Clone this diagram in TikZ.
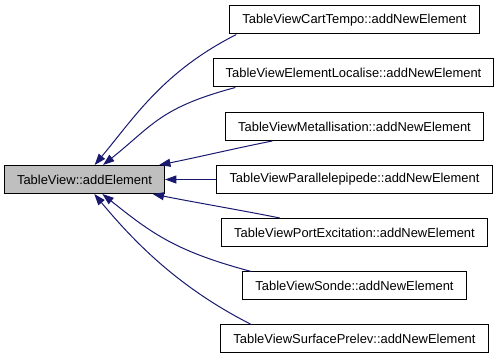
\documentclass[tikz,border=0pt]{standalone}
\usepackage{fontspec}
\setmainfont{Liberation Sans}
\usetikzlibrary{arrows.meta}

\definecolor{edgeblue}{RGB}{25,25,112}
\definecolor{fngray}{RGB}{191,191,191}

\tikzset{
  fnbox/.style={draw=black, line width=0.75pt, minimum height=21pt, inner xsep=9.4pt,
    inner ysep=0pt, font=\fontsize{9.7}{11.6}\selectfont},
  callee/.style={fnbox, fill=fngray},
  callerlink/.style={draw=edgeblue, line width=0.75pt,
    -{Triangle[length=8.5pt,width=6pt]}},
}

\begin{document}
\begin{tikzpicture}[x=0.75pt,y=0.75pt,yscale=-1,xscale=1]
\useasboundingbox (0,0) rectangle (501,360);

%Function under test
\node [callee] (addelem) at (84.5,179.5) {TableView::addElement};

%Callers
\node [fnbox] (carttempo) at (354.5,20) {TableViewCartTempo::addNewElement};
\node [fnbox] (elemloc) at (353.5,73) {TableViewElementLocalise::addNewElement};
\node [fnbox] (metall) at (354.5,126.5) {TableViewMetallisation::addNewElement};
\node [fnbox] (parall) at (354.5,179.5) {TableViewParallelepipede::addNewElement};
\node [fnbox] (portexc) at (354.5,232.5) {TableViewPortExcitation::addNewElement};
\node [fnbox] (sonde) at (354.5,286) {TableViewSonde::addNewElement};
\node [fnbox] (surfprel) at (354.5,339) {TableViewSurfacePrelev::addNewElement};

%Call links
\draw [callerlink] (carttempo.187.2) .. controls +(-73,37) and +(40,-48) .. (addelem.55.8);
\draw [callerlink] (elemloc.187.9) .. controls +(-75,20) and +(50,-40) .. (addelem.38.7);
\draw [callerlink] (metall.190.4) .. controls +(-40,8) and +(40,-8) .. (addelem.11.4);
\draw [callerlink] (parall.west) -- (addelem.east);
\draw [callerlink] (portexc.169.6) .. controls +(-40,-8) and +(40,8) .. (addelem.348.6);
\draw [callerlink] (sonde.172.1) .. controls +(-75,-20) and +(50,40) .. (addelem.321.3);
\draw [callerlink] (surfprel.172.8) .. controls +(-73,-37) and +(40,48) .. (addelem.304.2);

\end{tikzpicture}
\end{document}
